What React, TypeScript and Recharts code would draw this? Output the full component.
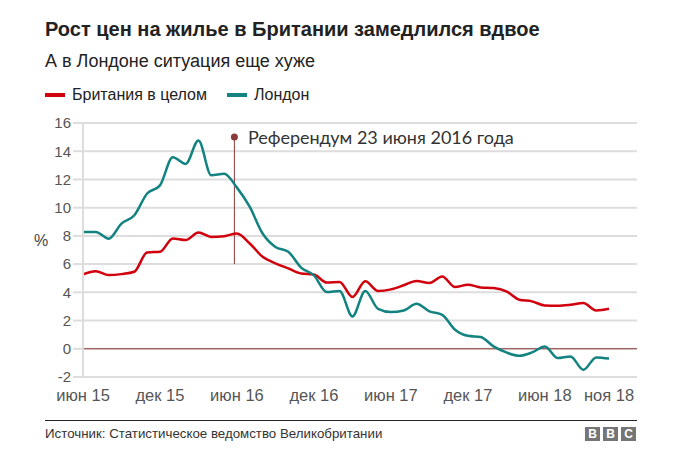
import React from 'react';
import { LineChart, Line, XAxis, YAxis, CartesianGrid, ReferenceLine, ReferenceDot } from 'recharts';

const months = [
  'июн 15','июл 15','авг 15','сен 15','окт 15','ноя 15','дек 15',
  'янв 16','фев 16','мар 16','апр 16','май 16','июн 16','июл 16','авг 16','сен 16','окт 16','ноя 16','дек 16',
  'янв 17','фев 17','мар 17','апр 17','май 17','июн 17','июл 17','авг 17','сен 17','окт 17','ноя 17','дек 17',
  'янв 18','фев 18','мар 18','апр 18','май 18','июн 18','июл 18','авг 18','сен 18','окт 18','ноя 18',
];
const ukValues = [
  5.27, 5.5, 5.22, 5.29, 5.46, 6.83, 6.87, 7.82, 7.7, 8.24, 7.93, 7.98, 8.17, 7.46, 6.52, 6.05, 5.7, 5.34, 5.27,
  4.69, 4.74, 3.67, 4.79, 4.1, 4.21, 4.5, 4.81, 4.66, 5.13, 4.37, 4.54, 4.35, 4.3, 4.07, 3.48, 3.36, 3.07, 3.05,
  3.12, 3.24, 2.72, 2.84,
];
const londonValues = [
  8.28, 8.28, 7.8, 8.87, 9.46, 11.0, 11.58, 13.58, 13.1, 14.76, 12.29, 12.4, 11.42, 10.05, 8.17, 7.22, 6.88, 5.75, 5.2,
  4.02, 4.1, 2.29, 4.1, 2.83, 2.6, 2.71, 3.19, 2.65, 2.41, 1.35, 0.92, 0.83, 0.17, -0.26, -0.5, -0.26, 0.17, -0.66,
  -0.54, -1.49, -0.61, -0.69,
];
const xTickIndex = [0, 6, 12, 18, 24, 30, 36, 41];
const yTicks = [-2, 0, 2, 4, 6, 8, 10, 12, 14, 16];
const referendumIndex = 11.8;
const referendumTop = 15;
const referendumBottom = 6;
const referendumText = 'Референдум 23 июня 2016 года';

const data = months.map((m, i) => ({ i, month: m, uk: ukValues[i], london: londonValues[i] }));

const RED = '#d0000c';
const TEAL = '#138381';
const MAROON = '#8b3a3a';
const FONT = '"Liberation Sans", Arial, sans-serif';

export default function App() {
  return (
    <div style={{ position: 'absolute', left: 0, top: 0, width: 674, height: 467, background: '#fff', fontFamily: FONT, overflow: 'hidden', lineHeight: 1 }}>
      <div style={{ position: 'absolute', left: 45, top: 19, fontSize: 20, fontWeight: 'bold', color: '#222', whiteSpace: 'nowrap' }}>
        Рост цен на жилье в Британии замедлился вдвое
      </div>
      <div style={{ position: 'absolute', left: 45, top: 51.5, fontSize: 18, color: '#222', whiteSpace: 'nowrap' }}>
        А в Лондоне ситуация еще хуже
      </div>
      <div style={{ position: 'absolute', left: 45, top: 87, height: 16, fontSize: 16, color: '#222', whiteSpace: 'nowrap', display: 'flex', alignItems: 'center' }}>
        <span style={{ display: 'inline-block', width: 20, height: 4, background: RED, marginRight: 7 }} />
        <span>Британия в целом</span>
        <span style={{ display: 'inline-block', width: 20, height: 4, background: TEAL, marginLeft: 20, marginRight: 7 }} />
        <span>Лондон</span>
      </div>
      <div style={{ position: 'absolute', left: 34, top: 233, fontSize: 16, color: '#444' }}>%</div>
      <div style={{ position: 'absolute', left: 0, top: 0 }}>
        <LineChart width={674} height={467} data={data} margin={{ top: 123, right: 37, bottom: 60, left: 0 }}>
          <CartesianGrid vertical={false} stroke="#dddddd" strokeWidth={2} />
          <XAxis
            type="number"
            dataKey="i"
            domain={[0, 41]}
            padding={{ left: 0, right: 28 }}
            ticks={xTickIndex}
            tickFormatter={(v: number) => months[v]}
            axisLine={false}
            tickLine={false}
            tickMargin={6}
            height={30}
            tick={{ fill: '#555', fontSize: 16.5, fontFamily: FONT }}
            interval={0}
          />
          <YAxis
            type="number"
            domain={[-2, 16]}
            ticks={yTicks}
            width={83}
            axisLine={{ stroke: '#dddddd', strokeWidth: 2 }}
            tickLine={{ stroke: '#dddddd', strokeWidth: 2 }}
            tickSize={10}
            tickMargin={2}
            tick={{ fill: '#555', fontSize: 15, fontFamily: FONT }}
            interval={0}
          />
          <ReferenceLine y={0} stroke={MAROON} strokeWidth={1} />
          <ReferenceLine
            segment={[{ x: referendumIndex, y: referendumTop }, { x: referendumIndex, y: referendumBottom }]}
            stroke={MAROON}
            strokeWidth={1}
          />
          <Line type="monotone" dataKey="uk" stroke={RED} strokeWidth={2.5} dot={false} isAnimationActive={false} />
          <Line type="monotone" dataKey="london" stroke={TEAL} strokeWidth={2.5} dot={false} isAnimationActive={false} />
          <ReferenceDot
            x={referendumIndex}
            y={referendumTop}
            r={3.5}
            fill={MAROON}
            stroke="none"
            label={{ value: referendumText, position: 'right', offset: 10, fill: '#333', fontSize: 18, fontFamily: 'Lato, sans-serif' }}
          />
        </LineChart>
      </div>
      <div style={{ position: 'absolute', left: 45, top: 420, width: 592, height: 0, borderTop: '1px solid #222' }} />
      <div style={{ position: 'absolute', left: 45, top: 426.5, fontSize: 13.3, color: '#333', whiteSpace: 'nowrap' }}>
        Источник: Статистическое ведомство Великобритании
      </div>
      <div style={{ position: 'absolute', left: 585, top: 427, display: 'flex', gap: 3 }}>
        {['B', 'B', 'C'].map((c, k) => (
          <div key={k} style={{ width: 15, height: 14, background: '#757575', color: '#fff', fontWeight: 'bold', fontSize: 12, lineHeight: '14px', textAlign: 'center' }}>{c}</div>
        ))}
      </div>
    </div>
  );
}
